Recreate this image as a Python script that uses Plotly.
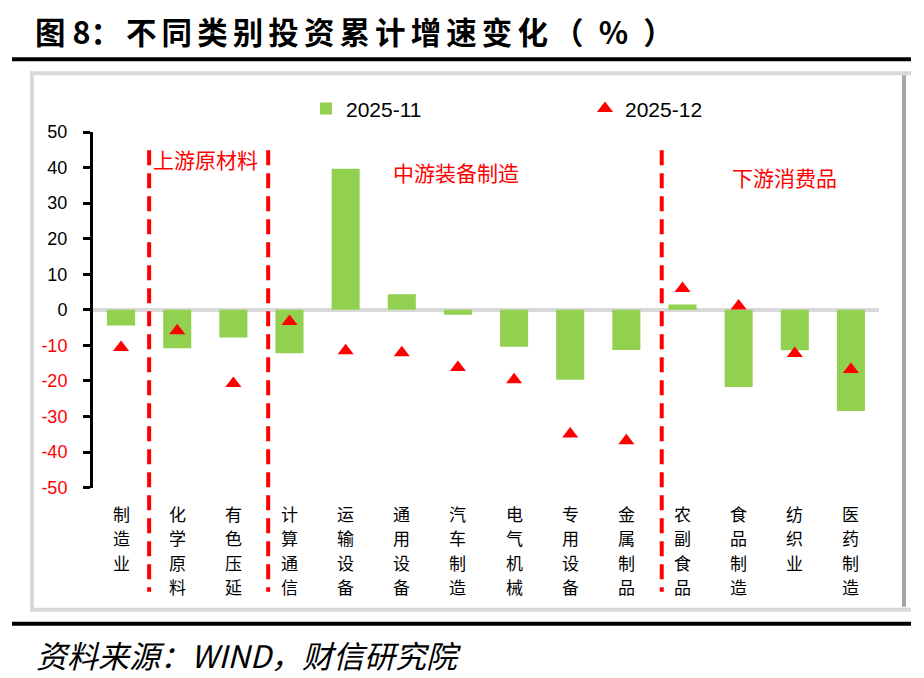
import plotly.graph_objects as go

W, H = 924, 678
FW, FH = W - 16, 682

categories = ["制造业", "化学原料", "有色压延", "计算通信", "运输设备", "通用设备", "汽车制造",
              "电气机械", "专用设备", "金属制品", "农副食品", "食品制造", "纺织业", "医药制造"]
nov_2025 = [-4.4, -10.8, -7.8, -12.2, 39.7, 4.4, -1.4, -10.4, -19.7, -11.3, 1.5, -21.7, -11.4, -28.5]
dec_2025 = [-10.6, -5.9, -20.7, -3.3, -11.5, -12.1, -16.2, -19.7, -34.9, -36.8, 6.0, 1.1, -12.3, -16.8]
y_ticks = [50, 40, 30, 20, 10, 0, -10, -20, -30, -40, -50]
segments = ["上游原材料", "中游装备制造", "下游消费品"]

title_text = "图 8：\u2006" + "\u2006".join("不同类别投资累计增速变化") + "\u2006（\u2002%\u2002）"
source_text = "资料来源：WIND，财信研究院"

CJK = "Noto Sans CJK SC"
GREEN = "#92D050"
RED = "#FF0000"


# 目标截图像素 -> paper 坐标（body 边距 8px；截图纵向约 0.97 压缩，按实测补偿）
def px(x):
    return (x - 8) / FW


def py(y):
    return 1 - ((y - 9) / 0.97 - 8) / FH


fig = go.Figure()
fig.add_trace(go.Bar(
    x=categories, y=nov_2025, name="2025-11",
    marker=dict(color=GREEN, line=dict(width=0)),
    legend="legend", showlegend=True,
))
fig.add_trace(go.Scatter(
    x=categories, y=dec_2025, name="2025-12", mode="markers",
    marker=dict(symbol="triangle-up", size=14, color=RED),
    legend="legend2", showlegend=True,
))

# 负值刻度标红
tick_text = [str(v) if v >= 0 else f'<span style="color:{RED}">{v}</span>' for v in y_ticks]

shapes = []
# 标题下粗线、底部粗线
for yy in (58, 622):
    shapes.append(dict(type="line", xref="paper", yref="paper", x0=px(12), x1=px(911),
                       y0=py(yy), y1=py(yy), line=dict(color="black", width=4)))
# 外框
box_gray = "#D9D9D9"
shapes.append(dict(type="line", xref="paper", yref="paper", x0=px(30), x1=px(911),
                   y0=py(72), y1=py(72), line=dict(color=box_gray, width=4)))
shapes.append(dict(type="line", xref="paper", yref="paper", x0=px(30), x1=px(911),
                   y0=py(608), y1=py(608), line=dict(color=box_gray, width=4)))
shapes.append(dict(type="line", xref="paper", yref="paper", x0=px(32), x1=px(32),
                   y0=py(70), y1=py(610), line=dict(color=box_gray, width=4)))
shapes.append(dict(type="line", xref="paper", yref="paper", x0=px(904), x1=px(904),
                   y0=py(74), y1=py(605), line=dict(color="#A6A6A6", width=4)))
# 分组虚线
for xpos in (0.5, 2.62, 9.63):
    shapes.append(dict(type="line", xref="x", yref="paper", x0=xpos, x1=xpos,
                       y0=py(149), y1=py(590),
                       line=dict(color=RED, width=4, dash="15px,8px")))

annotations = [
    dict(text=title_text, x=px(33), y=py(30), xref="paper", yref="paper",
         xanchor="left", yanchor="middle", showarrow=False,
         font=dict(family=CJK, size=30.5, color="black", weight="bold")),
    dict(text=f"<i>{source_text}</i>", x=px(35), y=py(653), xref="paper", yref="paper",
         xanchor="left", yanchor="middle", showarrow=False, borderpad=0,
         font=dict(family=CJK, size=31, color="black")),
]

seg_pos = [(205, 158), (456, 171), (784, 176)]
for name, (sx, sy) in zip(segments, seg_pos):
    annotations.append(dict(text=name, x=px(sx), y=py(sy), xref="paper", yref="paper",
                            xanchor="center", yanchor="middle", showarrow=False,
                            font=dict(family=CJK, size=21, color=RED)))

# 竖排类别标签，逐字排列
for cat in categories:
    for j, ch in enumerate(cat):
        annotations.append(dict(text=ch, x=cat, xref="x", y=py(511.5 + j * 24.5), yref="paper",
                                showarrow=False, xanchor="center", yanchor="middle", borderpad=0,
                                font=dict(family=CJK, size=17, color="black")))

fig.update_layout(
    width=FW, height=FH,
    margin=dict(l=0, r=0, t=0, b=0),
    paper_bgcolor="white", plot_bgcolor="white",
    bargap=0.5,
    showlegend=True,
    xaxis=dict(domain=[px(93), px(879)], range=[-0.5, 13.5], showticklabels=False,
               showline=False, showgrid=False, ticks="", zeroline=False),
    yaxis=dict(domain=[py(486), py(130.7)], range=[-50, 50],
               tickvals=y_ticks, ticktext=tick_text,
               tickfont=dict(family="Liberation Sans", size=18, color="black"),
               ticks="outside", ticklen=7, tickwidth=2.5, tickcolor="black",
               ticklabelstandoff=12,
               showline=True, linecolor="black", linewidth=3,
               showgrid=False, zeroline=True, zerolinecolor="#D9D9D9", zerolinewidth=4),
    legend=dict(x=px(306), y=py(107.5), xanchor="left", yanchor="middle",
                orientation="h", bgcolor="rgba(0,0,0,0)",
                font=dict(family="Liberation Sans", size=21, color="black")),
    legend2=dict(x=px(585), y=py(107.5), xanchor="left", yanchor="middle",
                 orientation="h", bgcolor="rgba(0,0,0,0)",
                 font=dict(family="Liberation Sans", size=21, color="black")),
    shapes=shapes,
    annotations=annotations,
)

fig.write_html("out.html")
